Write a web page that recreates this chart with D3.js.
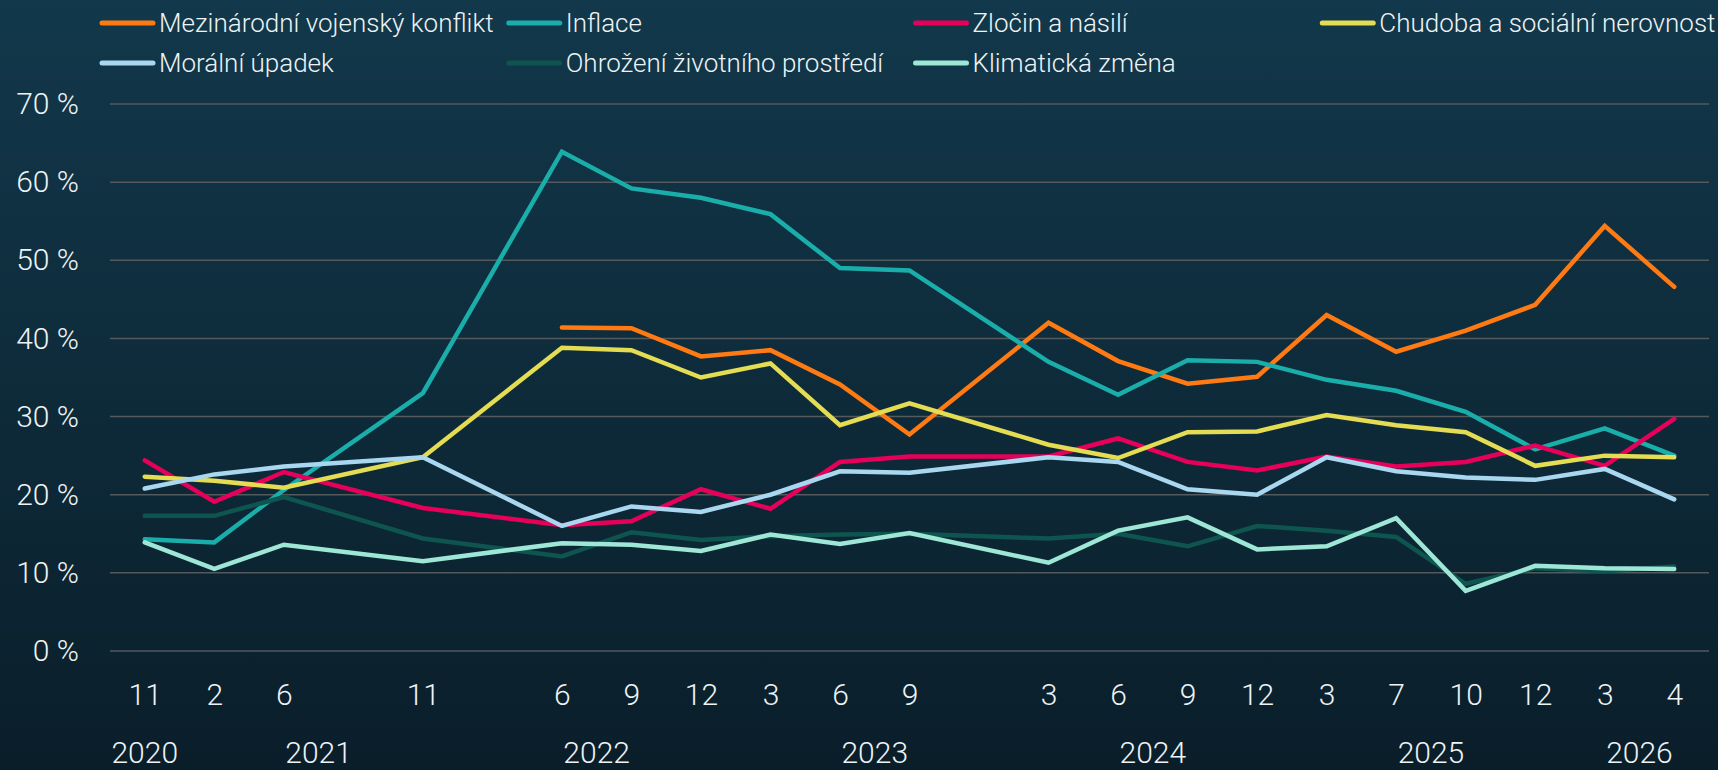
<!DOCTYPE html>
<html>
<head>
<meta charset="utf-8">
<script src="https://cdn.jsdelivr.net/npm/d3@7"></script>
<style>
  html, body { margin: 0; padding: 0; }
  body { width: 1718px; height: 770px; overflow: hidden; }
  svg { display: block; }
</style>
</head>
<body>
<svg id="chart" width="1718" height="770"></svg>
<script>
// ---- Data ----
// Category slots on the x axis (blank slots are empty categories)
const monthLabels = ["11","2","6","","11","","6","9","12","3","6","9","","3","6","9","12","3","7","10","12","3","4"];
const slotYears   = [2020,2021,2021,2021,2021,2022,2022,2022,2022,2023,2023,2023,2023,2024,2024,2024,2024,2025,2025,2025,2025,2026,2026];
const yTicks = [0,10,20,30,40,50,60,70];

const seriesNames = [
  "Mezinárodní vojenský konflikt",
  "Inflace",
  "Zločin a násilí",
  "Chudoba a sociální nerovnost",
  "Morální úpadek",
  "Ohrožení životního prostředí",
  "Klimatická změna"
];
const seriesColors = ["#ff7a12","#1aaeaa","#e6005a","#e4dc52","#a9d7ef","#0e554f","#9ee6d6"];

const konflikt = [null,null,null,null,null,null,41.4,41.3,37.7,38.5,34.1,27.7,null,42.0,37.1,34.2,35.1,43.0,38.3,41.0,44.3,54.4,46.6];
const inflace  = [14.3,13.9,20.6,null,33.0,null,63.9,59.2,58.0,55.9,49.0,48.7,null,37.0,32.8,37.2,37.0,34.7,33.3,30.6,25.8,28.5,25.0];
const zlocin   = [24.4,19.1,22.9,null,18.3,null,16.1,16.6,20.7,18.2,24.2,24.9,null,24.9,27.2,24.2,23.1,24.9,23.6,24.2,26.3,23.7,29.7];
const chudoba  = [22.3,21.8,20.9,null,24.8,null,38.8,38.5,35.0,36.8,28.9,31.7,null,26.4,24.7,28.0,28.1,30.2,28.9,28.0,23.7,25.0,24.8];
const moralni  = [20.8,22.6,23.6,null,24.8,null,16.0,18.5,17.8,20.0,23.0,22.8,null,24.8,24.2,20.7,20.0,24.8,23.0,22.2,21.9,23.3,19.4];
const ohrozeni = [17.3,17.3,19.7,null,14.4,null,12.1,15.2,14.2,14.7,14.9,15.0,null,14.4,15.0,13.4,16.0,15.4,14.6,8.6,10.6,10.2,10.8];
const klima    = [13.9,10.5,13.6,null,11.5,null,13.8,13.6,12.8,14.9,13.7,15.1,null,11.3,15.4,17.1,13.0,13.4,17.0,7.7,10.9,10.6,10.5];

const seriesValues = [konflikt, inflace, zlocin, chudoba, moralni, ohrozeni, klima];

// ---- Layout ----
const W = 1718, H = 770;
const plot = { left: 110, right: 1709, top: 104, bottom: 651 };
const FONT = "Roboto, 'Open Sans', sans-serif";
const TEXT = "#eef3f5";

const svg = d3.select("#chart");

const defs = svg.append("defs");
const grad = defs.append("linearGradient").attr("id","bg").attr("x1",0).attr("y1",0).attr("x2",0).attr("y2",1);
grad.append("stop").attr("offset","0%").attr("stop-color","#12384b");
grad.append("stop").attr("offset","100%").attr("stop-color","#0a1e2a");
svg.append("rect").attr("width",W).attr("height",H).attr("fill","url(#bg)");

const slots = d3.range(monthLabels.length);
const x = d3.scalePoint().domain(slots).range([plot.left, plot.right]).padding(0.5);
const y = d3.scaleLinear().domain([0,70]).range([plot.bottom, plot.top]);

// Grid lines
svg.append("g").selectAll("line").data(yTicks).join("line")
  .attr("x1", plot.left).attr("x2", plot.right)
  .attr("y1", d => y(d)).attr("y2", d => y(d))
  .attr("stroke", "#54595c").attr("stroke-width", 1.5);

// Y axis labels
const yAxis = d3.axisLeft(y).tickValues(yTicks).tickSize(0).tickPadding(0).tickFormat(d => d + " %");
const yg = svg.append("g").attr("transform", `translate(79,0)`).call(yAxis);
yg.select(".domain").remove();
yg.selectAll("text").attr("fill", TEXT).attr("font-family", FONT).attr("font-size", 30).attr("font-weight", 300);

// X axis month labels
const xAxis = d3.axisBottom(x).tickSize(0).tickPadding(0).tickFormat(i => monthLabels[i]);
const xg = svg.append("g").attr("transform", `translate(0,684)`).call(xAxis);
xg.select(".domain").remove();
xg.selectAll("text").attr("fill", TEXT).attr("font-family", FONT).attr("font-size", 30).attr("font-weight", 300).attr("dy", "0.71em");

// Year labels: centered over the slot span of each year
const years = Array.from(new Set(slotYears));
const yearPos = years.map(yr => {
  const idx = slots.filter(i => slotYears[i] === yr);
  return { year: yr, x: (x(d3.min(idx)) + x(d3.max(idx))) / 2 };
});
svg.append("g").selectAll("text").data(yearPos).join("text")
  .attr("x", d => d.x).attr("y", 763)
  .attr("text-anchor", "middle")
  .attr("fill", TEXT).attr("font-family", FONT).attr("font-size", 30).attr("font-weight", 300)
  .text(d => d.year);

// Lines
const line = d3.line().x(d => x(d.i)).y(d => y(d.v));
const lineG = svg.append("g");
seriesValues.forEach((vals, k) => {
  const pts = vals.map((v, i) => ({ i, v })).filter(d => d.v !== null);
  lineG.append("path")
    .attr("d", line(pts))
    .attr("fill", "none")
    .attr("stroke", seriesColors[k])
    .attr("stroke-width", 4.5)
    .attr("stroke-linejoin", "miter")
    .attr("stroke-linecap", "round");
});

// Legend (4 columns)
const legendCols = 4;
const legendX = d3.scaleLinear().domain([0, legendCols]).range([100, 1727]);
const legendRowY = [23, 63];
const lg = svg.append("g");
seriesNames.forEach((name, k) => {
  const col = k % legendCols, row = Math.floor(k / legendCols);
  const gx = legendX(col), gy = legendRowY[row];
  lg.append("line").attr("x1", gx + 2).attr("x2", gx + 53).attr("y1", gy).attr("y2", gy)
    .attr("stroke", seriesColors[k]).attr("stroke-width", 5).attr("stroke-linecap", "round");
  lg.append("text").attr("x", gx + 59).attr("y", gy).attr("dy", "0.35em")
    .attr("fill", TEXT).attr("font-family", FONT).attr("font-size", 26).attr("font-weight", 300)
    .text(name);
});
</script>
</body>
</html>
